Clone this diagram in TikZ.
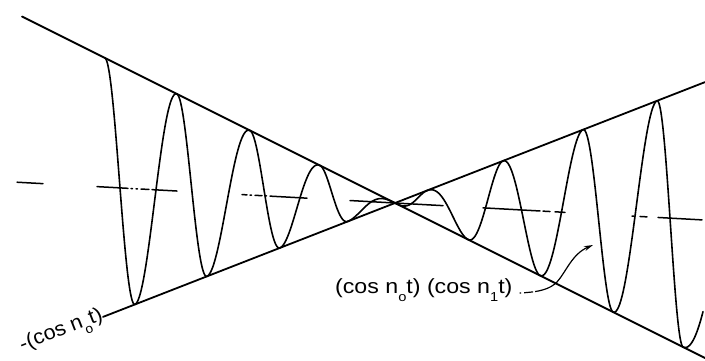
\documentclass[tikz,border=0pt]{standalone}
\usepackage{fontspec}
\setmainfont{Liberation Sans}
\usetikzlibrary{arrows.meta}
\newcommand\lsub[1]{\raisebox{-8pt}{\fontsize{13}{13}\selectfont #1}}
\newcommand\clseg[2]{\draw[axisln] ({#1},{203+0.055*(#1-395)}) -- ({#2},{203+0.055*(#2-395)});}
\tikzset{
  env/.style={line width=1.8pt, line cap=round},
  wave/.style={line width=1.6pt, line cap=round, line join=round},
  axisln/.style={line width=1.5pt, line cap=round},
  lbl/.style={font=\fontsize{20.5}{24}\selectfont, inner sep=0pt},
  leader/.style={line width=1.2pt, dash pattern=on 1.5pt off 3pt on 9pt off 2pt on 300pt,
    -{Stealth[length=9pt,width=5pt,open]}}
}
\begin{document}
\begin{tikzpicture}[x=1pt,y=-1pt]
\useasboundingbox (0,0) rectangle (705,360);
% envelope lines
\coordinate (P1) at (22,16.5);
\coordinate (P2) at (705,358);
\coordinate (Q2) at (705,82.1);
\draw[env] (P1) -- (P2);
\node[lbl, rotate=21.3, anchor=mid east] (lbl0) at (103,316.9) {\scalebox{1.06}[1]{-(cos n\lsub{o}t)}};
\draw[env] (lbl0.mid east) -- (Q2);
% wave
\foreach \xa/\xb/\k in {105/135/0, 135/177/1, 177/207/2, 207/250/3, 250/280/4, 280/320/5, 320/348/6, 348/395/7,
  395/427/8, 427/468/9, 468/503/10, 503/540/11, 540/583/12, 583/613/13, 613/657/14, 657/683/15}{
  \draw[wave] plot[domain=\xa:\xb, samples=40, variable=\x]
    (\x, {203+0.055*(\x-395)+0.445*(\x-395)*cos(180*\k+180*(\x-\xa)/(\xb-\xa))});
}
\draw[wave] plot[domain=683:703, samples=20, variable=\x]
    (\x, {203+0.055*(\x-395)+0.445*(\x-395)*cos(48*(\x-683)/20)});
% centre line pieces
\clseg{17}{43}
\clseg{97}{128}\clseg{131}{132.5}\clseg{136}{137.5}\clseg{141}{149}\clseg{152}{177}
\clseg{242}{247}\clseg{250}{251.5}\clseg{255}{262}\clseg{265}{266.5}\clseg{270}{307}
\clseg{350}{443}
\clseg{483}{540}\clseg{543}{550}\clseg{555}{565}
\clseg{632}{634}\clseg{640}{647}\clseg{658}{702}
% label with leader
\node[lbl, anchor=base west] (lbl1) at (335,293) {\scalebox{1.13}[1]{(cos n\lsub{o}t) (cos n\lsub{1}t)}};
\coordinate (ls) at ([xshift=7pt]lbl1.base east);
\coordinate (tip) at (593,245);
\draw[leader] (ls) .. controls (540,292) and (550,289) .. (557,282) .. controls (566,272) and (572,254) .. (tip);
\end{tikzpicture}
\end{document}
